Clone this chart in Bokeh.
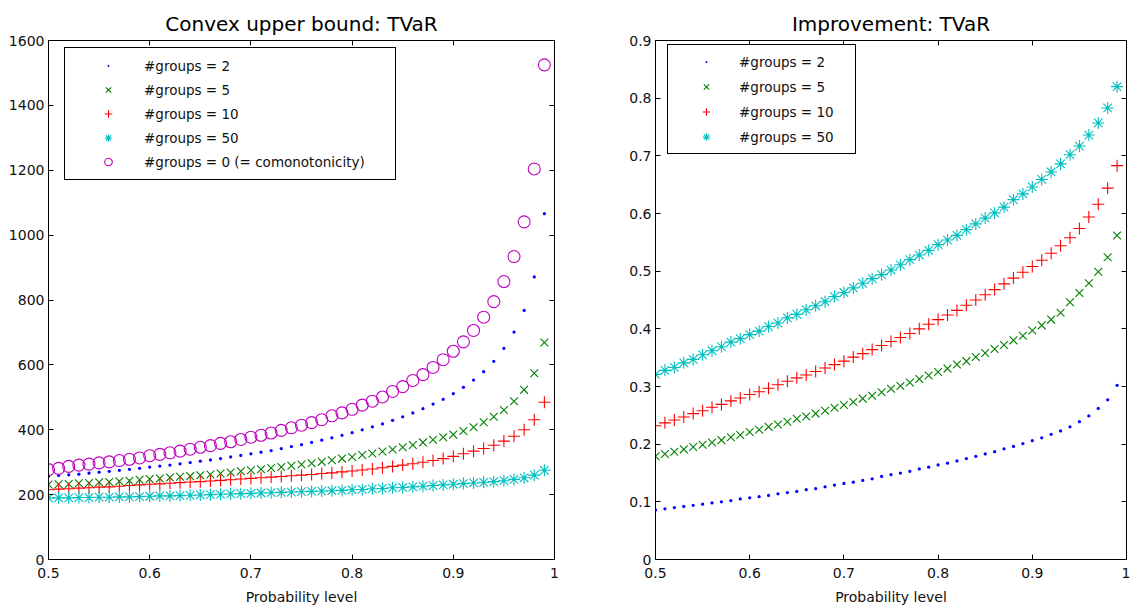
from bokeh.plotting import figure
from bokeh.models import (Range1d, FixedTicker, LinearAxis, Legend, LegendItem,
                          PrintfTickFormatter, CustomJSTickFormatter, ColumnDataSource)
from bokeh.layouts import row
from bokeh.embed import file_html
from bokeh.resources import INLINE

prob = [0.50, 0.51, 0.52, 0.53, 0.54, 0.55, 0.56, 0.57, 0.58, 0.59,
        0.60, 0.61, 0.62, 0.63, 0.64, 0.65, 0.66, 0.67, 0.68, 0.69,
        0.70, 0.71, 0.72, 0.73, 0.74, 0.75, 0.76, 0.77, 0.78, 0.79,
        0.80, 0.81, 0.82, 0.83, 0.84, 0.85, 0.86, 0.87, 0.88, 0.89,
        0.90, 0.91, 0.92, 0.93, 0.94, 0.95, 0.96, 0.97, 0.98, 0.99]

# Left panel: convex upper bound TVaR
tvar_g2 = [257, 259, 261, 263, 266, 269, 272, 275, 278, 281,
           285, 288, 291, 295, 299, 303, 307, 311, 316, 321,
           326, 331, 336, 342, 348, 354, 361, 368, 375, 383,
           391, 400, 409, 418, 429, 440, 452, 465, 479, 494,
           511, 531, 553, 579, 611, 651, 701, 768, 871, 1066]
tvar_g5 = [231, 232, 233, 235, 236, 238, 239, 241, 243, 246,
           248, 250, 253, 255, 257, 260, 262, 265, 268, 272,
           275, 278, 282, 285, 289, 293, 297, 301, 306, 311,
           316, 322, 327, 333, 339, 346, 353, 361, 369, 377,
           385, 396, 408, 423, 440, 461, 488, 523, 574, 669]
tvar_g10 = [215, 217, 218, 220, 221, 223, 224, 226, 228, 230,
            232, 233, 235, 237, 239, 240, 242, 244, 246, 248,
            250, 252, 254, 256, 258, 260, 262, 265, 267, 270,
            273, 276, 279, 283, 287, 291, 295, 300, 305, 311,
            318, 326, 334, 342, 352, 365, 380, 400, 431, 485]
tvar_g50 = [190, 190, 190, 191, 191, 192, 192, 193, 193, 194,
            195, 196, 196, 197, 198, 199, 200, 201, 202, 203,
            204, 205, 206, 207, 208, 209, 210, 211, 212, 213,
            215, 216, 218, 219, 221, 222, 224, 226, 228, 230,
            232, 234, 236, 238, 240, 243, 247, 252, 260, 275]
tvar_como = [277, 281, 287, 291, 294, 298, 301, 305, 309, 313,
             320, 324, 329, 334, 340, 346, 351, 358, 363, 370,
             377, 383, 390, 398, 406, 414, 422, 431, 443, 452,
             463, 476, 488, 501, 518, 533, 552, 570, 592, 616,
             642, 671, 706, 747, 795, 857, 934, 1041, 1204, 1525]

# Right panel: improvement TVaR
imp_g2 = [0.086, 0.088, 0.090, 0.092, 0.094, 0.096, 0.098, 0.100, 0.102, 0.105,
          0.107, 0.109, 0.111, 0.114, 0.116, 0.118, 0.121, 0.123, 0.126, 0.129,
          0.132, 0.134, 0.137, 0.140, 0.144, 0.147, 0.150, 0.153, 0.157, 0.160,
          0.164, 0.167, 0.171, 0.175, 0.179, 0.183, 0.187, 0.192, 0.196, 0.201,
          0.206, 0.211, 0.217, 0.223, 0.230, 0.239, 0.249, 0.262, 0.277, 0.302]
imp_g5 = [0.179, 0.183, 0.187, 0.191, 0.195, 0.199, 0.203, 0.207, 0.212, 0.216,
          0.221, 0.225, 0.230, 0.234, 0.239, 0.244, 0.248, 0.253, 0.258, 0.263,
          0.268, 0.273, 0.279, 0.284, 0.290, 0.296, 0.301, 0.307, 0.313, 0.319,
          0.325, 0.331, 0.338, 0.344, 0.351, 0.358, 0.365, 0.372, 0.380, 0.388,
          0.397, 0.406, 0.416, 0.428, 0.446, 0.462, 0.479, 0.499, 0.524, 0.562]
imp_g10 = [0.232, 0.237, 0.242, 0.247, 0.253, 0.258, 0.264, 0.269, 0.275, 0.280,
           0.286, 0.291, 0.297, 0.303, 0.309, 0.315, 0.320, 0.326, 0.332, 0.338,
           0.344, 0.351, 0.357, 0.364, 0.371, 0.378, 0.385, 0.392, 0.400, 0.408,
           0.416, 0.424, 0.432, 0.441, 0.450, 0.459, 0.468, 0.478, 0.488, 0.498,
           0.508, 0.519, 0.531, 0.544, 0.558, 0.574, 0.594, 0.616, 0.644, 0.683]
imp_g50 = [0.321, 0.328, 0.333, 0.341, 0.347, 0.355, 0.362, 0.369, 0.377, 0.383,
           0.390, 0.396, 0.404, 0.410, 0.419, 0.425, 0.433, 0.440, 0.447, 0.456,
           0.463, 0.471, 0.479, 0.487, 0.494, 0.502, 0.511, 0.520, 0.528, 0.536,
           0.546, 0.554, 0.562, 0.572, 0.582, 0.592, 0.601, 0.611, 0.624, 0.634,
           0.646, 0.659, 0.672, 0.686, 0.702, 0.717, 0.736, 0.757, 0.783, 0.820]

labels = ["#groups = 2", "#groups = 5", "#groups = 10", "#groups = 50",
          "#groups = 0 (= comonotonicity)"]
x_ticks = [0.5, 0.6, 0.7, 0.8, 0.9, 1.0]
left_yticks = [0, 200, 400, 600, 800, 1000, 1200, 1400, 1600]
right_yticks = [0, 0.1, 0.2, 0.3, 0.4, 0.5, 0.6, 0.7, 0.8, 0.9]

FONT = "DejaVu Sans"
BLUE, GREEN, RED, CYAN, MAG = "#0000ff", "#008000", "#ff0000", "#00bfbf", "#bf00bf"


def style_axis(ax, ticks, show_labels=True):
    ax.ticker = FixedTicker(ticks=ticks)
    ax.major_tick_in = 5
    ax.major_tick_out = 0
    ax.minor_tick_line_color = None
    ax.axis_line_color = "black"
    ax.major_tick_line_color = "black"
    ax.major_label_text_font = FONT
    ax.major_label_text_font_size = "14px"
    ax.major_label_text_color = "#111111"
    ax.axis_label_text_font = FONT
    ax.axis_label_text_font_size = "14px"
    ax.axis_label_text_font_style = "normal"
    ax.axis_label_text_color = "#111111"
    ax.axis_label_standoff = 8
    ax.major_label_standoff = 8
    if show_labels:
        ax.formatter = PrintfTickFormatter(format="%g")
    else:
        ax.formatter = CustomJSTickFormatter(code="return '';")
        ax.major_label_standoff = 0
        ax.axis_label_standoff = 0


def make_fig(title, width, ymax, yticks, mbl, mbr):
    p = figure(width=width, height=609, output_backend="svg", toolbar_location=None,
               x_range=Range1d(0.5, 1.0), y_range=Range1d(0, ymax),
               min_border_left=mbl, min_border_right=mbr,
               min_border_top=40, min_border_bottom=50, title=title)
    p.grid.visible = False
    p.outline_line_color = "black"
    p.outline_line_alpha = 1
    p.outline_line_width = 1
    p.background_fill_color = "white"
    p.border_fill_color = "white"
    p.title.text_font = FONT
    p.title.text_font_size = "20px"
    p.title.text_font_style = "normal"
    p.title.text_color = "black"
    p.title.align = "center"
    style_axis(p.xaxis[0], x_ticks)
    p.xaxis[0].axis_label = "Probability level"
    style_axis(p.yaxis[0], yticks)
    p.yaxis[0].major_label_standoff = 4
    top = LinearAxis()
    style_axis(top, x_ticks, show_labels=False)
    top.major_label_standoff = 4
    p.add_layout(top, "above")
    right = LinearAxis()
    style_axis(right, yticks, show_labels=False)
    p.add_layout(right, "right")
    return p


def style_legend(lg, glyph_w, label_w, standoff, spacing, padding):
    lg.border_line_color = "black"
    lg.border_line_width = 1.3
    lg.border_line_alpha = 1
    lg.background_fill_color = "white"
    lg.background_fill_alpha = 1
    lg.padding = padding
    lg.spacing = spacing
    lg.margin = 0
    lg.glyph_width = glyph_w
    lg.glyph_height = 19
    lg.label_height = 19
    lg.label_width = label_w
    lg.label_standoff = standoff
    lg.label_text_font = FONT
    lg.label_text_font_size = "13.5px"
    lg.label_text_color = "#111111"


def add_series(p, ys, kind):
    src = ColumnDataSource(dict(x=prob, y=ys))
    if kind == "dot":
        return p.scatter("x", "y", source=src, marker="dot", size=13,
                         fill_color=BLUE, line_color=BLUE)
    if kind == "x":
        return p.scatter("x", "y", source=src, marker="x", size=11,
                         line_color=GREEN, line_width=1.1)
    if kind == "+":
        return p.scatter("x", "y", source=src, marker="cross", size=12,
                         line_color=RED, line_width=1.1)
    if kind == "*":
        return p.scatter("x", "y", source=src, marker="asterisk", size=12,
                         line_color=CYAN, line_width=1.1)
    return p.scatter("x", "y", source=src, marker="circle", size=12,
                     fill_color=None, line_color=MAG, line_width=1.1)


# Left figure
p1 = make_fig("Convex upper bound: TVaR", 600, 1600, left_yticks, 48, 46)
r = [add_series(p1, tvar_g2, "dot"), add_series(p1, tvar_g5, "x"),
     add_series(p1, tvar_g10, "+"), add_series(p1, tvar_g50, "*"),
     add_series(p1, tvar_como, "o")]
lg1 = Legend(items=[LegendItem(label=labels[i], renderers=[r[i]]) for i in range(5)],
             location=(16, 379))
style_legend(lg1, 70, 243, 1, 5, 8)
p1.add_layout(lg1)

# Right figure
p2 = make_fig("Improvement: TVaR", 530, 0.9, right_yticks, 55, 4)
r2 = [add_series(p2, imp_g2, "dot"), add_series(p2, imp_g5, "x"),
      add_series(p2, imp_g10, "+"), add_series(p2, imp_g50, "*")]
lg2 = Legend(items=[LegendItem(label=labels[i], renderers=[r2[i]]) for i in range(4)],
             location=(12, 405))
style_legend(lg2, 62, 109, 2, 6, 7)
p2.add_layout(lg2)

layout = row(p1, p2)
open("out.html", "w").write(file_html(layout, INLINE))
